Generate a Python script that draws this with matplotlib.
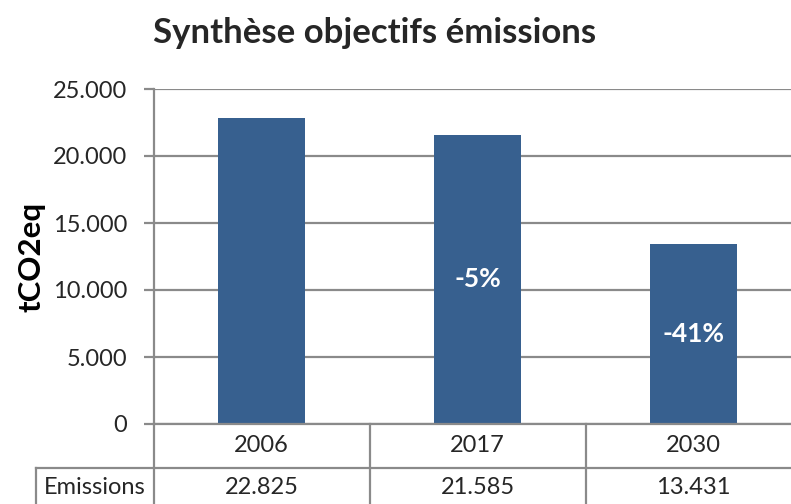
import matplotlib.pyplot as plt
from matplotlib.lines import Line2D

plt.rcParams['font.family'] = ['Lato', 'DejaVu Sans']

years = ["2006", "2017", "2030"]
emissions = [22825, 21585, 13431]
row_label = "Emissions"
yticks = [0, 5000, 10000, 15000, 20000, 25000]

W, H = 791, 504
bar_color = '#37608f'
grid_color = '#8a8a8a'
text_color = '#262626'

def fmt(v):
    # thousands separator with a dot
    return "{:,}".format(int(v)).replace(",", ".")

fig = plt.figure(figsize=(W / 100, H / 100), dpi=100, facecolor='w')

# plot area in pixels: left 153, top 89, zero line 424, category width 216
x0, ytop, yzero, cat_w = 153.5, 89, 424, 216
ax = fig.add_axes([x0 / W, (H - yzero) / H, 3 * cat_w / W, (yzero - ytop) / H])

x = list(range(len(years)))
ax.bar(x, emissions, width=0.4, color=bar_color, zorder=3)
ax.set_xlim(-0.5, len(years) - 0.5)
ax.set_ylim(0, 25000)
ax.set_yticks(yticks)
ax.set_yticklabels([fmt(v) for v in yticks], fontsize=17, color=text_color)
ax.set_xticks([])
ax.yaxis.grid(True, color=grid_color, linewidth=1.6, zorder=0)
for s in ['top', 'right', 'bottom']:
    ax.spines[s].set_visible(False)
ax.spines['left'].set_color(grid_color)
ax.spines['left'].set_linewidth(1.6)
ax.tick_params(axis='y', length=7, width=1.6, color=grid_color, pad=12)
ax.set_ylabel("tCO2eq", fontsize=22.5, fontweight='bold', color='black', labelpad=5)

# change against the first year, written in the middle of each later bar
for i in range(1, len(emissions)):
    pct = round((emissions[i] / emissions[0] - 1) * 100)
    ax.text(i, emissions[i] / 2, "{}%".format(pct), ha='center', va='center',
            color='white', fontsize=19, fontweight='bold', zorder=4)

fig.text(375 / W, 1 - 33 / H, "Synthèse objectifs émissions", ha='center', va='center',
         fontsize=25, fontweight='bold', color=text_color)

# data table under the axis
def px_line(xs, ys):
    fig.add_artist(Line2D([v / W for v in xs], [1 - v / H for v in ys],
                          transform=fig.transFigure, color=grid_color, linewidth=1.6))

row1 = 468
table_left = 36
px_line([x0, W], [yzero, yzero])
px_line([table_left, W], [row1, row1])
px_line([table_left, table_left], [row1, H])
for k in range(len(years) + 1):
    xb = x0 + k * cat_w
    px_line([xb, xb], [yzero, H])

for i, (yr, v) in enumerate(zip(years, emissions)):
    xc = (x0 + (i + 0.5) * cat_w) / W
    fig.text(xc, 1 - 446 / H, yr, ha='center', va='center', fontsize=17, color=text_color)
    fig.text(xc, 1 - 488 / H, fmt(v), ha='center', va='center', fontsize=17, color=text_color)
fig.text((table_left + x0) / 2 / W, 1 - 488 / H, row_label, ha='center', va='center',
         fontsize=17, color=text_color)

fig.savefig("out.png", dpi=100)
